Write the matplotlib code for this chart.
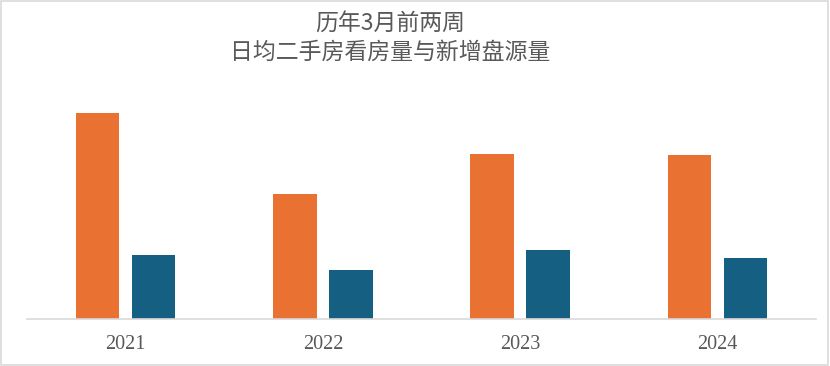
import matplotlib
matplotlib.use("Agg")
import matplotlib.pyplot as plt
import numpy as np

years = ["2021", "2022", "2023", "2024"]
# 日均二手房看房量 / 新增盘源量 (relative heights)
viewings = [206, 125, 165, 164]
new_listings = [64, 49, 69, 61]

title = "历年3月前两周\n日均二手房看房量与新增盘源量"

plt.rcParams["font.family"] = ["Noto Sans CJK SC", "DejaVu Sans"]

fig = plt.figure(figsize=(8.3, 3.66), dpi=100)
ax = fig.add_axes([27 / 830, 47.5 / 366, 789 / 830, 230 / 366])

x = np.arange(len(years))
w = 0.22
ax.bar(x - 0.142, viewings, width=w, color="#E97132")
ax.bar(x + 0.142, new_listings, width=w, color="#156082")

ax.set_xlim(-0.5, len(years) - 0.5)
ax.set_ylim(0, 230)
ax.set_yticks([])
ax.set_xticks(x)
ax.set_xticklabels(years, family="Liberation Serif", fontsize=14.5, color="#595959")
ax.tick_params(axis="x", length=0, pad=12)
for s in ["top", "right", "left"]:
    ax.spines[s].set_visible(False)
ax.spines["bottom"].set_color("#d9d9d9")
ax.spines["bottom"].set_linewidth(1.2)

fig.text(390 / 830, 1 - 38 / 366, title, ha="center", va="center",
         fontsize=16.5, color="#595959", linespacing=1.3)

fig.patches.append(plt.Rectangle((0.001, 0.002), 0.997, 0.995, transform=fig.transFigure,
                                 fill=False, edgecolor="#d9d9d9", linewidth=1.2))

fig.savefig("out.png", dpi=100)
